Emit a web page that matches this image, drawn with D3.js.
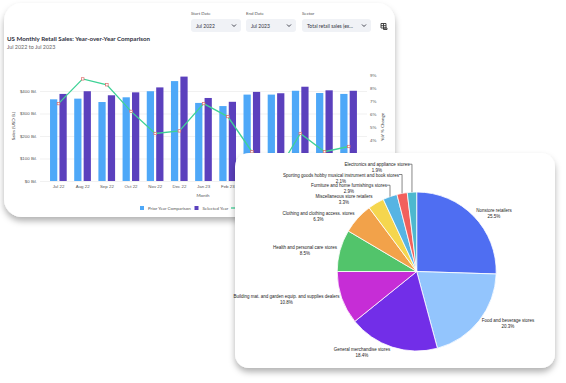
<!DOCTYPE html>
<html>
<head>
<meta charset="utf-8">
<script src="https://cdn.jsdelivr.net/npm/d3@7"></script>
<style>
html, body { margin: 0; padding: 0; background: #fff; }
svg { display: block; font-family: Lato, sans-serif; }
</style>
</head>
<body>
<div id="chart"></div>
<script>
var months = ["Jul 22", "Aug 22", "Sep 22", "Oct 22", "Nov 22", "Dec 22", "Jan 23", "Feb 23", "Mar 23", "Apr 23", "May 23", "Jun 23", "Jul 23"];
var priorYear = [363, 366, 351, 372, 399, 444, 347, 333, 384, 384, 401, 391, 387];
var selectedYear = [387, 399, 381, 394, 416, 464, 369, 352, 396, 390, 419, 403, 401];
var yoyChange = [6.8, 8.7, 8.25, 6.2, 4.5, 4.7, 6.8, 5.8, 3.1, 1.4, 4.5, 3.1, 3.5];
var salesTicks = [0, 100, 200, 300, 400];
var pctTicks = [4, 5, 6, 7, 8, 9];

var sectors = ["Nonstore retailers", "Food and beverage stores", "General merchandise stores", "Building mat. and garden equip. and supplies dealers", "Health and personal care stores", "Clothing and clothing access. stores", "Miscellaneous store retailers", "Furniture and home furnishings stores", "Sporting goods hobby musical instrument and book stores", "Electronics and appliance stores"];
var shares = [25.5, 20.3, 18.4, 10.8, 8.5, 6.3, 3.3, 2.9, 2.1, 1.9];
var sliceColors = ["#4f6ef2", "#93c5fd", "#722ee8", "#c62dd6", "#52c46b", "#f2a24a", "#f5d64e", "#56b4e3", "#f2605c", "#4db8cf"];

var W = 566, H = 383;
var svg = d3.select("#chart").append("svg").attr("width", W).attr("height", H);

var defs = svg.append("defs");
var shadow = defs.append("filter").attr("id", "shadow")
    .attr("x", "-10%").attr("y", "-10%").attr("width", "120%").attr("height", "125%");
shadow.append("feDropShadow")
    .attr("dx", 0).attr("dy", 4).attr("stdDeviation", 3)
    .attr("flood-color", "#000").attr("flood-opacity", 0.3);

// back card
svg.append("rect")
    .attr("x", 4).attr("y", 3).attr("width", 391).attr("height", 214).attr("rx", 18)
    .attr("fill", "#fff").attr("filter", "url(#shadow)");

svg.append("text").attr("x", 7).attr("y", 41)
    .attr("font-size", 6.2).attr("font-weight", 700).attr("fill", "#31333f")
    .text("US Monthly Retail Sales: Year-over-Year Comparison");
svg.append("text").attr("x", 7).attr("y", 49)
    .attr("font-size", 5.4).attr("fill", "#666")
    .text("Jul 2022 to Jul 2023");

// filters
var filters = [
    {label: "Start Date", value: "Jul 2022", x: 191, w: 50},
    {label: "End Date", value: "Jul 2023", x: 246, w: 50},
    {label: "Sector", value: "Total retail sales (ex...", x: 302, w: 69}
];
var filter = svg.append("g").selectAll("g").data(filters).enter().append("g")
    .attr("transform", function (d) { return "translate(" + d.x + ",0)"; });
filter.append("text").attr("y", 15).attr("font-size", 4.4).attr("fill", "#555").text(function (d) { return d.label; });
filter.append("rect").attr("y", 19).attr("width", function (d) { return d.w; }).attr("height", 13).attr("rx", 3).attr("fill", "#f0f2f6");
filter.append("text").attr("x", 5).attr("y", 27.6).attr("font-size", 5).attr("fill", "#31333f").text(function (d) { return d.value; });
filter.append("path")
    .attr("d", function (d) { return "M" + (d.w - 9) + ",24.5l2,2l2,-2"; })
    .attr("fill", "none").attr("stroke", "#31333f").attr("stroke-width", 0.9);
// table icon
svg.append("path").attr("d", "M381,23.5h5v4.5h-5zM381,25.7h5M383.5,23.5v4.5M383.5,28h3.5v1.5h-3.5z")
    .attr("fill", "none").attr("stroke", "#333").attr("stroke-width", 0.9);

// combo chart
var x = d3.scaleBand().domain(months).range([46.4, 360.8]);
var y = d3.scaleLinear().domain([0, 400]).range([181, 91]);
var yPct = d3.scaleLinear().domain([4, 9]).range([140, 75]);
var barW = x.bandwidth() * 0.3;

var chart = svg.append("g");

var left = chart.append("g").attr("transform", "translate(40,0)")
    .call(d3.axisLeft(y).tickValues(salesTicks).tickSize(-327).tickPadding(3)
        .tickFormat(function (d) { return "$" + d + " Bil."; }));
left.select(".domain").remove();
left.selectAll("line").attr("stroke", "#eeeeee").attr("stroke-width", 0.8);
left.selectAll("text").attr("font-size", 4.4).attr("fill", "#555");

var right = chart.append("g").attr("transform", "translate(370,0)")
    .call(d3.axisRight(yPct).tickValues(pctTicks).tickSize(0).tickPadding(0)
        .tickFormat(function (d) { return d + "%"; }));
right.select(".domain").remove();
right.selectAll("text").attr("font-size", 4.4).attr("fill", "#555");

chart.append("g").selectAll("rect").data(months).enter().append("rect")
    .attr("x", function (d) { return x(d) + x.bandwidth() * 0.15; })
    .attr("y", function (d, i) { return y(priorYear[i]); })
    .attr("width", barW)
    .attr("height", function (d, i) { return y(0) - y(priorYear[i]); })
    .attr("fill", "#4ea8f8");
chart.append("g").selectAll("rect").data(months).enter().append("rect")
    .attr("x", function (d) { return x(d) + x.bandwidth() * 0.54; })
    .attr("y", function (d, i) { return y(selectedYear[i]); })
    .attr("width", barW)
    .attr("height", function (d, i) { return y(0) - y(selectedYear[i]); })
    .attr("fill", "#5b40bd");

var line = d3.line()
    .x(function (d, i) { return x(months[i]) + x.bandwidth() / 2; })
    .y(function (d) { return yPct(d); });
chart.append("path").datum(yoyChange).attr("d", line)
    .attr("fill", "none").attr("stroke", "#3ed296").attr("stroke-width", 1.3);
chart.append("g").selectAll("rect").data(yoyChange).enter().append("rect")
    .attr("x", function (d, i) { return x(months[i]) + x.bandwidth() / 2 - 1.3; })
    .attr("y", function (d) { return yPct(d) - 1.2; })
    .attr("width", 2.6).attr("height", 2.4)
    .attr("fill", "#fff").attr("stroke", "#dd6a6a").attr("stroke-width", 0.7);

var bottom = chart.append("g").attr("transform", "translate(0,181)")
    .call(d3.axisBottom(x).tickValues(months.slice(0, 8)).tickSize(0).tickPadding(3.5));
bottom.select(".domain").remove();
bottom.selectAll("text").attr("font-size", 4.4).attr("fill", "#555");

svg.append("text").attr("transform", "translate(15,126) rotate(-90)")
    .attr("text-anchor", "middle").attr("font-size", 4.6).attr("fill", "#444").text("Sales (USD B.)");
svg.append("text").attr("transform", "translate(384,127) rotate(-90)")
    .attr("text-anchor", "middle").attr("font-size", 4.6).attr("fill", "#444").text("YoY % Change");
svg.append("text").attr("x", 203).attr("y", 196.5).attr("text-anchor", "middle")
    .attr("font-size", 4.4).attr("fill", "#555").text("Month");

// legend
var legendItems = [
    {label: "Prior Year Comparison", color: "#4ea8f8", x: 140},
    {label: "Selected Year", color: "#5b40bd", x: 194.5}
];
var lg = svg.append("g").selectAll("g").data(legendItems).enter().append("g")
    .attr("transform", function (d) { return "translate(" + d.x + ",208)"; });
lg.append("rect").attr("y", -2).attr("width", 4).attr("height", 4).attr("fill", function (d) { return d.color; });
lg.append("text").attr("x", 8).attr("y", 1.6).attr("font-size", 4.4).attr("fill", "#555").text(function (d) { return d.label; });
svg.append("line").attr("x1", 231).attr("x2", 236).attr("y1", 208).attr("y2", 208)
    .attr("stroke", "#3ed296").attr("stroke-width", 1.3);

// front card
svg.append("rect")
    .attr("x", 235).attr("y", 153).attr("width", 320).attr("height", 215).attr("rx", 14)
    .attr("fill", "#fff").attr("filter", "url(#shadow)");

var cx = 416.7, cy = 271.5, r = 79.5;
var pie = d3.pie().sort(null).value(function (d) { return d; });
var arc = d3.arc().innerRadius(0).outerRadius(r);
var slices = pie(shares);

svg.append("g").attr("transform", "translate(" + cx + "," + cy + ")")
    .selectAll("path").data(slices).enter().append("path")
    .attr("d", arc)
    .attr("fill", function (d, i) { return sliceColors[i]; })
    .attr("stroke", "#fff").attr("stroke-width", 0.8);

// label anchors
var labelX = [494, 508, 362, 286.5, 305, 318.5, 344, 349, 341, 377];
var labelY = [210, 320, 349.3, 296.3, 247.7, 213.3, 196.3, 185.7, 175, 164.7];
var labels = svg.append("g").attr("font-family", "'Liberation Sans', sans-serif")
    .selectAll("g").data(sectors).enter().append("g");
labels.append("text").attr("x", function (d, i) { return labelX[i]; }).attr("y", function (d, i) { return labelY[i] + 1.6; })
    .attr("text-anchor", "middle").attr("font-size", 4.5).attr("fill", "#222")
    .text(function (d) { return d; });
labels.append("text").attr("x", function (d, i) { return labelX[i]; }).attr("y", function (d, i) { return labelY[i] + 7.5; })
    .attr("text-anchor", "middle").attr("font-size", 4.5).attr("fill", "#222")
    .text(function (d, i) { return shares[i].toFixed(1) + "%"; });

// leader lines for the three small slices at the top
var leaders = [{i: 7, from: 387}, {i: 8, from: 399}, {i: 9, from: 409}];
svg.append("g").selectAll("path").data(leaders).enter().append("path")
    .attr("d", function (d) {
        var s = slices[d.i], mid = (s.startAngle + s.endAngle) / 2;
        var ex = cx + r * Math.sin(mid), ey = cy - r * Math.cos(mid);
        return "M" + d.from + "," + (labelY[d.i] - 0.5) + "H" + ex + "V" + ey;
    })
    .attr("fill", "none").attr("stroke", "#555").attr("stroke-width", 0.7);
</script>
</body>
</html>
